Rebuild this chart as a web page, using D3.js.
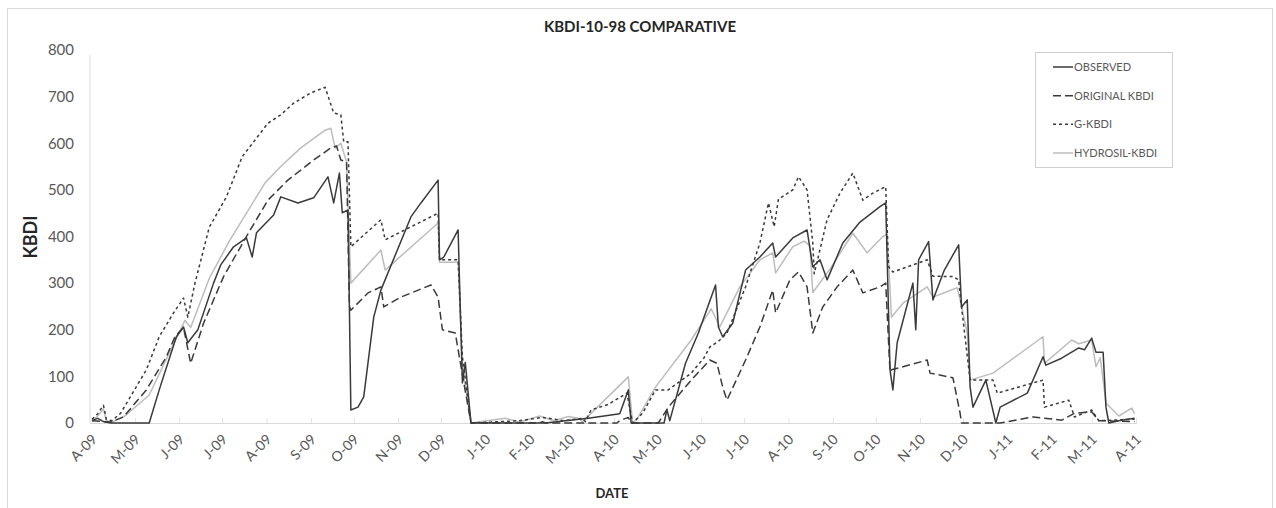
<!DOCTYPE html>
<html>
<head>
<meta charset="utf-8">
<script src="https://cdn.jsdelivr.net/npm/d3@7"></script>
<style>
  html, body { margin: 0; padding: 0; background: #fff; }
  svg { display: block; font-family: Lato, "Noto Sans", sans-serif; }
</style>
</head>
<body>
<svg id="chart" width="1276" height="508"></svg>
<script>
const title = "KBDI-10-98 COMPARATIVE";
const yTicks = [0, 100, 200, 300, 400, 500, 600, 700, 800];
const monthLetters = ["J","F","M","A","M","J","J","A","S","O","N","D"];
const seriesNames = ["OBSERVED", "ORIGINAL KBDI", "G-KBDI", "HYDROSIL-KBDI"];

const observed = [
["2009-04-01",5],["2009-04-05",10],["2009-04-09",3],["2009-04-14",0],["2009-05-11",0],["2009-05-18",71],
["2009-05-30",185],["2009-06-04",206],["2009-06-07",172],["2009-06-14",200],["2009-06-25",300],["2009-06-30",339],
["2009-07-09",378],["2009-07-18",397],["2009-07-22",356],["2009-07-25",408],["2009-08-06",446],["2009-08-11",485],
["2009-08-23",472],["2009-09-03",483],["2009-09-13",528],["2009-09-17",472],["2009-09-21",536],["2009-09-23",451],
["2009-09-27",457],["2009-09-29",28],["2009-10-04",34],["2009-10-08",56],["2009-10-15",227],["2009-10-20",285],
["2009-11-10",442],["2009-11-17",472],["2009-11-29",521],["2009-11-30",350],["2009-12-03",356],["2009-12-13",414],
["2009-12-14",300],["2009-12-16",86],["2009-12-18",130],["2009-12-22",0],["2010-02-08",0],["2010-02-10",3],
["2010-02-12",0],["2010-03-14",10],["2010-03-25",15],["2010-04-05",20],["2010-04-11",71],["2010-04-13",0],
["2010-05-06",0],["2010-05-08",28],["2010-05-10",5],["2010-05-21",128],["2010-05-30",193],["2010-06-11",296],
["2010-06-13",206],["2010-06-16",185],["2010-06-23",214],["2010-07-02",328],["2010-07-12",356],["2010-07-21",386],
["2010-07-23",356],["2010-08-04",397],["2010-08-14",414],["2010-08-18",335],["2010-08-23",350],["2010-08-28",307],
["2010-09-08",386],["2010-09-20",431],["2010-10-04",464],["2010-10-08",472],["2010-10-11",114],["2010-10-13",71],
["2010-10-16",172],["2010-10-27",300],["2010-10-29",200],["2010-10-31",350],["2010-11-07",389],["2010-11-10",264],
["2010-11-18",328],["2010-11-28",382],["2010-11-30",249],["2010-12-04",264],["2010-12-06",77],["2010-12-08",34],
["2010-12-17",92],["2010-12-24",0],["2010-12-27",34],["2011-01-15",64],["2011-01-26",142],["2011-01-28",124],
["2011-02-08",139],["2011-02-20",161],["2011-02-24",157],["2011-03-01",182],["2011-03-04",152],["2011-03-09",152],
["2011-03-11",34],["2011-03-13",0],["2011-03-20",5],["2011-03-26",8],["2011-03-31",10]
];

const original = [
["2009-04-01",5],["2009-04-09",3],["2009-04-14",2],["2009-04-23",13],["2009-05-09",71],["2009-05-23",142],
["2009-05-29",185],["2009-06-04",205],["2009-06-09",128],["2009-06-18",214],["2009-07-02",314],["2009-07-18",400],
["2009-08-02",478],["2009-08-16",521],["2009-09-03",564],["2009-09-15",590],["2009-09-19",594],["2009-09-22",564],
["2009-09-26",560],["2009-09-28",250],["2009-09-29",242],["2009-10-11",279],["2009-10-20",292],["2009-10-22",249],
["2009-11-03",270],["2009-11-24",296],["2009-11-29",270],["2009-12-02",200],["2009-12-11",193],["2009-12-17",86],
["2009-12-22",0],["2010-04-03",0],["2010-04-05",5],["2010-04-11",12],["2010-04-13",0],["2010-05-02",0],
["2010-05-09",34],["2010-05-25",92],["2010-06-07",135],["2010-06-12",128],["2010-06-16",77],["2010-06-19",49],
["2010-07-02",135],["2010-07-12",206],["2010-07-21",285],["2010-07-23",236],["2010-08-02",307],["2010-08-08",324],
["2010-08-14",292],["2010-08-18",193],["2010-08-25",249],["2010-09-04",292],["2010-09-15",328],["2010-09-22",279],
["2010-10-04",292],["2010-10-08",300],["2010-10-11",110],["2010-10-12",114],["2010-11-06",135],["2010-11-08",107],
["2010-11-24",97],["2010-11-29",21],["2010-11-30",0],["2010-12-27",0],["2011-01-19",13],["2011-02-08",6],
["2011-02-17",21],["2011-03-01",24],["2011-03-06",5],["2011-03-31",3]
];

const gkbdi = [
["2009-04-01",8],["2009-04-05",20],["2009-04-09",38],["2009-04-11",8],["2009-04-15",5],["2009-04-21",21],
["2009-05-09",114],["2009-05-18",185],["2009-05-28",236],["2009-06-04",268],["2009-06-07",227],["2009-06-12",300],
["2009-06-22",420],["2009-07-04",485],["2009-07-15",571],["2009-08-02",643],["2009-08-11",661],["2009-08-20",686],
["2009-09-01",708],["2009-09-11",720],["2009-09-17",665],["2009-09-22",661],["2009-09-24",603],["2009-09-27",603],
["2009-09-29",378],["2009-10-20",436],["2009-10-23",393],["2009-11-29",450],["2009-11-30",350],["2009-12-13",350],
["2009-12-16",142],["2009-12-22",0],["2010-01-25",5],["2010-02-10",12],["2010-02-25",5],["2010-03-10",10],
["2010-03-12",3],["2010-03-16",28],["2010-03-28",40],["2010-04-10",64],["2010-04-14",0],["2010-04-21",21],
["2010-04-30",71],["2010-05-09",71],["2010-05-25",107],["2010-06-03",140],["2010-06-07",163],["2010-06-13",175],
["2010-06-19",193],["2010-07-02",292],["2010-07-12",386],["2010-07-18",472],["2010-07-22",421],["2010-07-25",480],
["2010-08-04",500],["2010-08-08",528],["2010-08-14",500],["2010-08-18",386],["2010-08-19",320],["2010-08-28",436],
["2010-09-06",493],["2010-09-15",536],["2010-09-22",478],["2010-09-29",493],["2010-10-08",507],["2010-10-10",335],
["2010-10-13",324],["2010-11-06",350],["2010-11-10",315],["2010-11-24",314],["2010-11-28",307],["2010-11-30",249],
["2010-12-06",92],["2010-12-22",92],["2010-12-25",64],["2011-01-26",92],["2011-01-27",34],["2011-02-13",49],
["2011-02-17",13],["2011-03-01",28],["2011-03-06",5],["2011-03-31",8]
];

const hydrosil = [
["2009-04-01",5],["2009-04-05",15],["2009-04-09",30],["2009-04-11",5],["2009-04-15",2],["2009-04-24",15],
["2009-05-11",60],["2009-05-25",150],["2009-06-05",220],["2009-06-09",205],["2009-06-22",310],["2009-07-06",390],
["2009-07-18",450],["2009-07-31",515],["2009-08-11",550],["2009-08-25",590],["2009-09-11",628],["2009-09-15",632],
["2009-09-18",590],["2009-09-22",600],["2009-09-26",560],["2009-09-29",300],["2009-10-20",371],["2009-10-23",328],
["2009-11-29",429],["2009-11-30",345],["2009-12-13",345],["2009-12-16",120],["2009-12-22",0],["2010-01-15",10],
["2010-01-25",2],["2010-02-08",15],["2010-02-18",5],["2010-02-28",14],["2010-03-07",10],["2010-03-10",3],
["2010-04-11",99],["2010-04-14",0],["2010-04-17",8],["2010-04-30",77],["2010-05-25",178],["2010-06-08",245],
["2010-06-14",206],["2010-06-28",292],["2010-07-12",350],["2010-07-21",365],["2010-07-23",322],["2010-08-04",378],
["2010-08-12",390],["2010-08-16",380],["2010-08-18",280],["2010-08-30",330],["2010-09-15",407],["2010-09-20",386],
["2010-09-25",365],["2010-10-06",400],["2010-10-09",405],["2010-10-12",227],["2010-10-20",257],["2010-11-06",292],
["2010-11-10",270],["2010-11-27",290],["2010-11-29",264],["2010-12-04",193],["2010-12-06",92],["2010-12-22",107],
["2011-01-26",185],["2011-01-27",128],["2011-02-15",178],["2011-02-20",170],["2011-03-01",178],["2011-03-04",121],
["2011-03-07",140],["2011-03-11",43],["2011-03-20",15],["2011-03-29",32],["2011-03-31",20]
];

const parse = d3.timeParse("%Y-%m-%d");
const toPts = arr => arr.map(([d, v]) => ({ date: parse(d), value: v }))
                        .sort((a, b) => a.date - b.date);

const series = [
  { name: seriesNames[0], data: toPts(observed), stroke: "#3a3a3a", dash: null,  width: 1.5 },
  { name: seriesNames[1], data: toPts(original), stroke: "#3a3a3a", dash: "8,4", width: 1.5 },
  { name: seriesNames[2], data: toPts(gkbdi),    stroke: "#3a3a3a", dash: "3,3", width: 1.5 },
  { name: seriesNames[3], data: toPts(hydrosil), stroke: "#bdbdbd", dash: null,  width: 1.5 }
];

const svg = d3.select("#chart");

// outer chart border
svg.append("rect").attr("x", 7.5).attr("y", 8.5).attr("width", 1265).attr("height", 510)
  .attr("fill", "#fff").attr("stroke", "#d9d9d9");

const x = d3.scaleTime()
  .domain([new Date(2009, 3, 1), new Date(2011, 3, 1)])
  .range([92, 1136]);
const y = d3.scaleLinear().domain([0, 800]).range([423, 50]);

// y axis
const yAxis = svg.append("g").attr("transform", "translate(90,0)")
  .call(d3.axisLeft(y).tickValues(yTicks).tickSize(0).tickPadding(16));
yAxis.selectAll("text").attr("fill", "#595959").attr("font-size", 15)
  .attr("font-family", "Lato, 'Noto Sans', sans-serif");
yAxis.select(".domain").attr("stroke", "#d9d9d9").attr("d", `M0,${y(800) + 5}V${y(0)}`);

// x axis
const months = d3.timeMonth.range(new Date(2009, 3, 1), new Date(2011, 3, 2));
const fmtYear = d3.timeFormat("%y");
const xAxis = svg.append("g").attr("transform", `translate(0,${y(0)})`)
  .call(d3.axisBottom(x).tickValues(months).tickSizeInner(-5).tickSizeOuter(0)
    .tickFormat(d => monthLetters[d.getMonth()] + "-" + fmtYear(d)));
xAxis.select(".domain").attr("stroke", "#d9d9d9").attr("d", `M90,0.5H1137`);
xAxis.selectAll(".tick line").attr("stroke", "#e3e3e3");
xAxis.selectAll(".tick text")
  .attr("fill", "#595959").attr("font-size", 14)
  .attr("font-family", "Lato, 'Noto Sans', sans-serif")
  .attr("text-anchor", "end")
  .attr("x", 3).attr("y", 0).attr("dy", "0.35em")
  .attr("transform", "translate(0,16) rotate(-45)");

// lines
const line = d3.line().x(d => x(d.date)).y(d => y(d.value));
svg.append("g").selectAll("path").data(series.slice().reverse()).join("path")
  .attr("d", s => line(s.data))
  .attr("fill", "none")
  .attr("stroke", s => s.stroke)
  .attr("stroke-width", s => s.width)
  .attr("stroke-dasharray", s => s.dash)
  .attr("stroke-linejoin", "round");

// title
svg.append("text").attr("x", 640).attr("y", 32).attr("text-anchor", "middle")
  .attr("font-size", 15).attr("font-weight", "bold").attr("fill", "#262626").text(title);

// axis titles
svg.append("text").attr("transform", "translate(37,237) rotate(-90)")
  .attr("text-anchor", "middle").attr("font-size", 18).attr("font-weight", "bold")
  .attr("fill", "#262626").text("KBDI");
svg.append("text").attr("x", 612).attr("y", 498).attr("text-anchor", "middle")
  .attr("font-size", 13).attr("font-weight", "bold").attr("fill", "#262626").text("DATE");

// legend
const lg = svg.append("g");
lg.append("rect").attr("x", 1035.5).attr("y", 52.5).attr("width", 137).attr("height", 115)
  .attr("fill", "#fff").attr("stroke", "#d0d0d0");
const ly = d3.scalePoint().domain(seriesNames).range([67, 153]);
const items = lg.selectAll("g.item").data(series).join("g").attr("class", "item")
  .attr("transform", s => `translate(0,${ly(s.name)})`);
items.append("line").attr("x1", 1053).attr("x2", 1073).attr("y1", 0).attr("y2", 0)
  .attr("stroke", s => s.stroke).attr("stroke-width", s => s.width)
  .attr("stroke-dasharray", s => s.dash);
items.append("text").attr("x", 1074).attr("y", 0).attr("dy", "0.35em")
  .attr("font-size", 11).attr("fill", "#595959").text(s => s.name);
</script>
</body>
</html>
